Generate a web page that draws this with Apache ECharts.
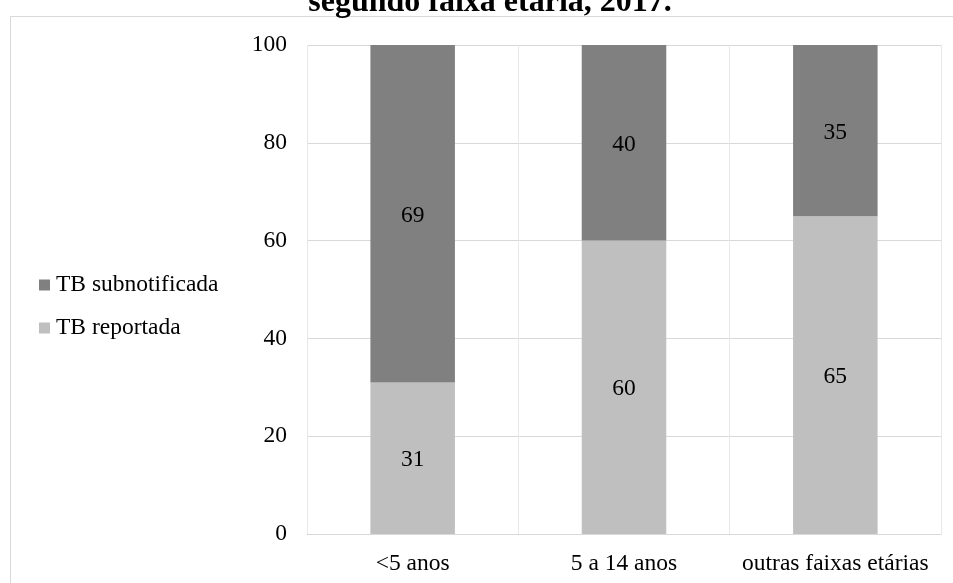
<!DOCTYPE html>
<html>
<head>
<meta charset="utf-8">
<script src="https://cdn.jsdelivr.net/npm/echarts@6/dist/echarts.min.js"></script>
<style>
  html, body { margin: 0; padding: 0; background: #fff; }
  #main { width: 953px; height: 583px; }
</style>
</head>
<body>
<div id="main"></div>
<script>
var categories = ['<5 anos', '5 a 14 anos', 'outras faixas etárias'];
var reportada = [31, 60, 65];
var subnotificada = [69, 40, 35];
var yTicks = [0, 20, 40, 60, 80, 100];

var chartDom = document.getElementById('main');
var myChart = echarts.init(chartDom);
var option;

var serif = '"Liberation Serif", "Times New Roman", serif';
var fs = 23.5;

option = {
  animation: false,
  title: {
    text: 'segundo faixa etária, 2017.',
    left: 485,
    textAlign: 'center',
    top: -18,
    textStyle: {
      fontFamily: serif,
      fontWeight: 'bold',
      fontSize: 32,
      color: '#000'
    }
  },
  graphic: [
    {
      type: 'rect',
      shape: { x: 10.5, y: 16.5, width: 1000, height: 700 },
      style: { fill: 'none', stroke: '#d9d9d9', lineWidth: 1 },
      z: -1
    }
  ],
  legend: {
    orient: 'vertical',
    left: 34,
    top: 268,
    itemWidth: 11,
    itemHeight: 11,
    itemGap: 19,
    icon: 'rect',
    textStyle: { fontFamily: serif, fontSize: fs, color: '#000', padding: [0, 0, 0, 1] },
    data: ['TB subnotificada', 'TB reportada']
  },
  grid: {
    left: 307,
    right: 12,
    top: 45,
    bottom: 49
  },
  xAxis: {
    type: 'category',
    data: categories,
    axisLine: { lineStyle: { color: '#d9d9d9', width: 1 } },
    axisTick: { show: false },
    splitLine: { show: true, interval: 0, lineStyle: { color: '#e8e8e8', width: 1 } },
    axisLabel: {
      interval: 0,
      fontFamily: serif,
      fontSize: fs,
      color: '#000',
      margin: 18
    }
  },
  yAxis: {
    type: 'value',
    min: yTicks[0],
    max: yTicks[yTicks.length - 1],
    interval: 20,
    axisLine: { show: false },
    axisTick: { show: false },
    splitLine: { lineStyle: { color: '#d9d9d9', width: 1 } },
    axisLabel: {
      fontFamily: serif,
      fontSize: fs,
      color: '#000',
      margin: 20
    }
  },
  series: [
    {
      name: 'TB reportada',
      type: 'bar',
      stack: 'tb',
      barWidth: '40%',
      itemStyle: { color: '#bfbfbf' },
      label: {
        show: true,
        position: 'inside',
        offset: [0, 2],
        fontFamily: serif,
        fontSize: fs,
        color: '#000'
      },
      data: reportada
    },
    {
      name: 'TB subnotificada',
      type: 'bar',
      stack: 'tb',
      barWidth: '40%',
      itemStyle: { color: '#808080' },
      label: {
        show: true,
        position: 'inside',
        offset: [0, 2],
        fontFamily: serif,
        fontSize: fs,
        color: '#000'
      },
      data: subnotificada
    }
  ]
};

option && myChart.setOption(option);
</script>
</body>
</html>
